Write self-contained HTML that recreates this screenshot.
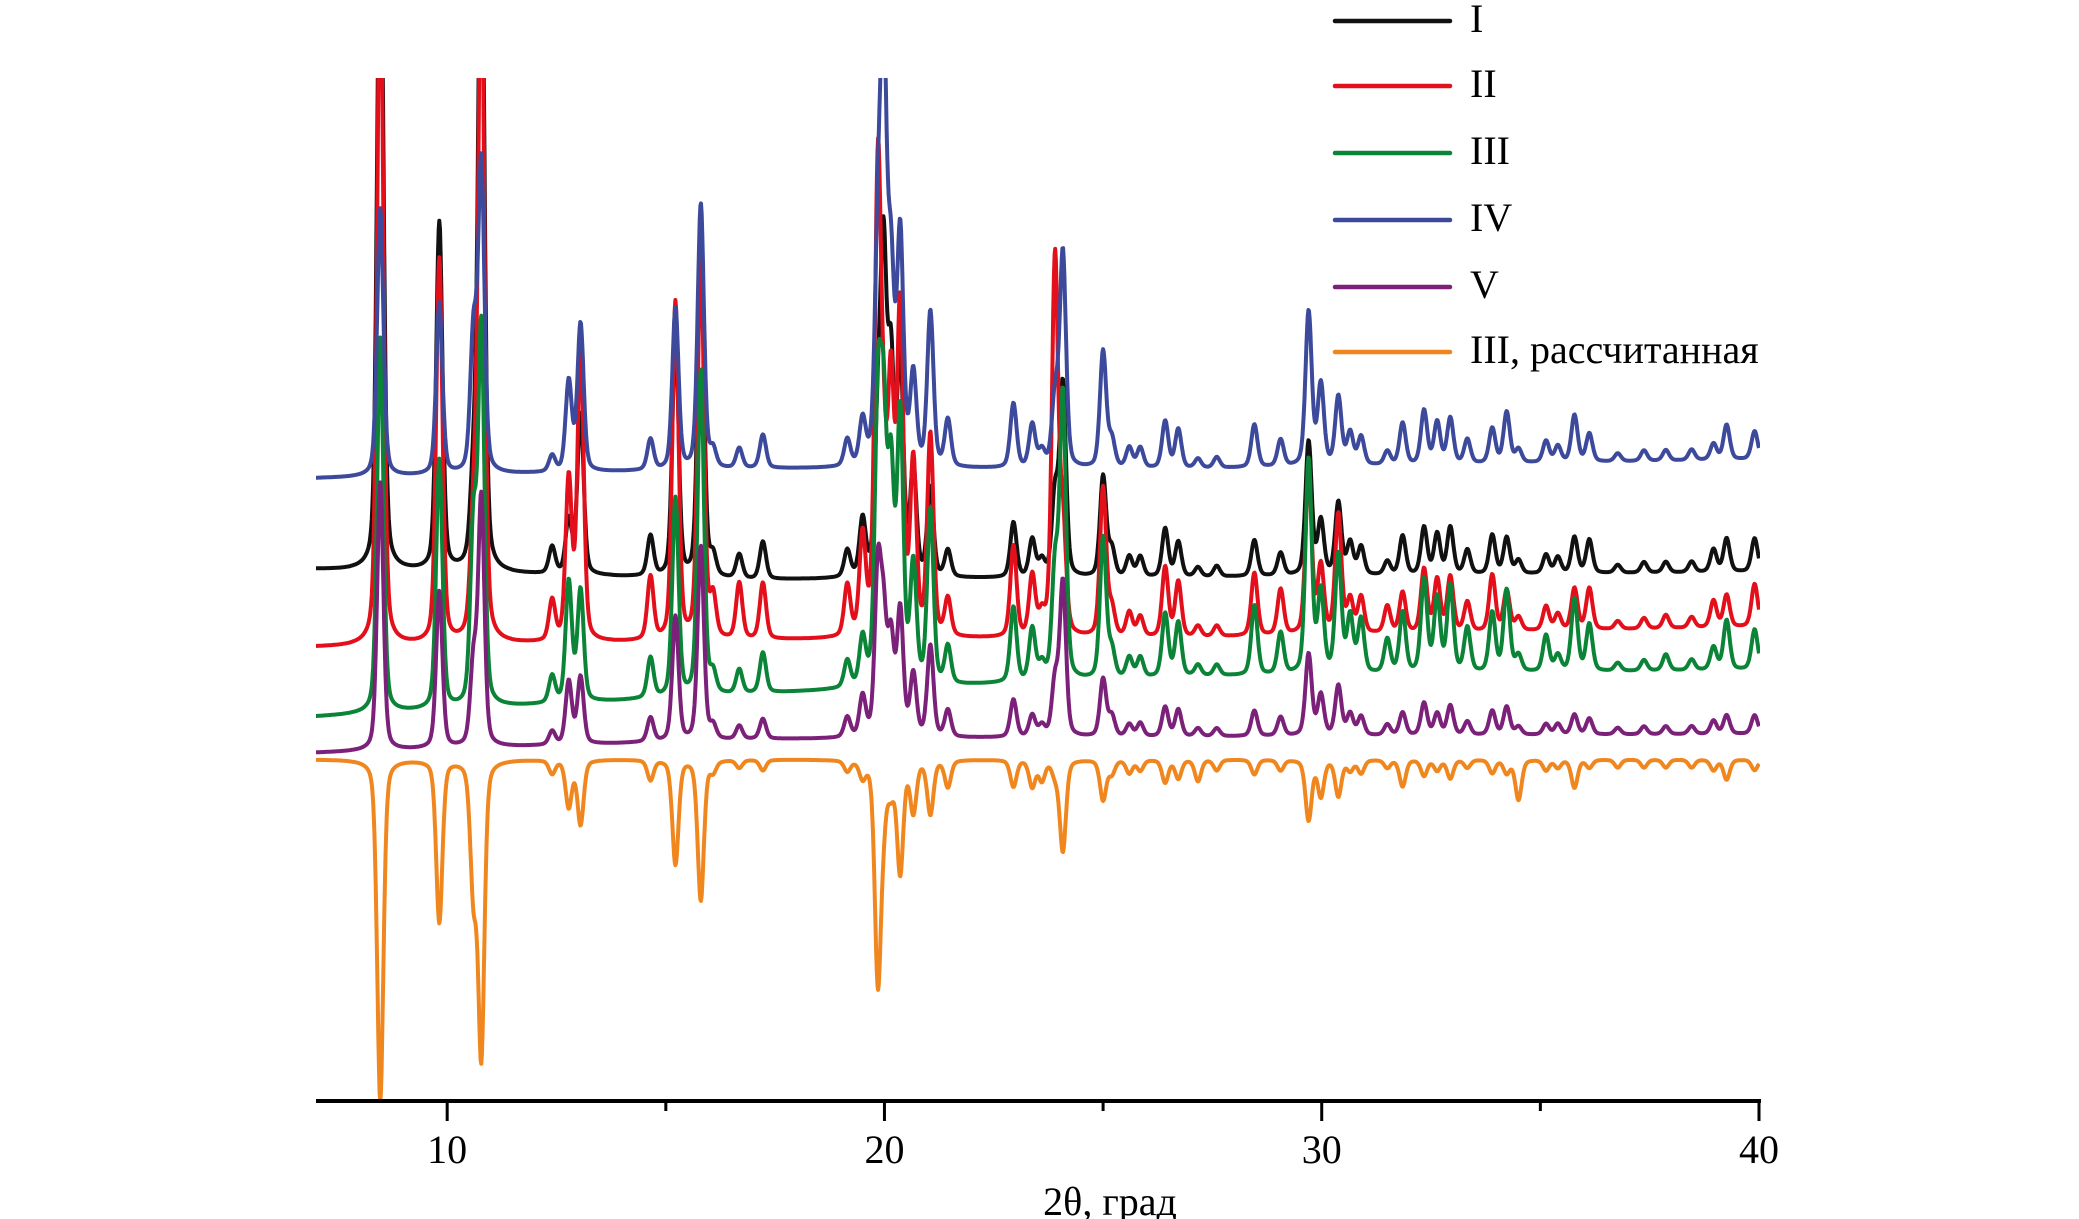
<!DOCTYPE html>
<html><head><meta charset="utf-8"><style>
html,body{margin:0;padding:0;background:#fff;}
svg{display:block;}
text{font-family:"Liberation Serif","DejaVu Serif",serif;fill:#000;}
</style></head><body>
<svg id="chart" width="2079" height="1219" viewBox="0 0 2079 1219" xmlns="http://www.w3.org/2000/svg">
<defs><clipPath id="plotclip"><rect x="316" y="78" width="1444" height="1023"/></clipPath></defs>
<g id="series" clip-path="url(#plotclip)"></g>
<g id="axis"></g>
<text x="1110" y="1219" font-size="40" text-anchor="middle" dy="-4">2θ, град</text>
<g id="legend"></g>
</svg>
<script>
const peakPos = [8.47,9.82,10.6,10.78,12.4,12.78,13.05,14.65,15.22,15.8,16.08,16.68,17.22,19.15,19.5,19.85,19.98,20.15,20.36,20.66,21.05,21.45,22.95,23.38,23.6,23.9,24.08,25.0,25.2,25.6,25.85,26.42,26.72,27.17,27.6,28.46,29.06,29.7,29.98,30.38,30.65,30.9,31.5,31.85,32.34,32.64,32.94,33.33,33.9,34.23,34.5,35.13,35.4,35.78,36.12,36.77,37.37,37.87,38.46,38.96,39.26,39.9];
const hI   = [520,260,60,520,20,40,120,30,180,250,15,18,28,20,42,100,227,150,160,80,66,20,41,28,12,60,143,75,20,15,15,36,26,7,8,27,17,100,40,54,24,21,10,29,35,30,35,18,29,27,10,14,12,27,25,6,8,8,8,17,25,25];
const hII  = [520,287,80,520,30,120,220,47,252,290,30,42,42,38,73,340,100,180,240,128,150,28,68,45,15,282,80,111,20,18,15,52,41,8,8,47,34,119,50,89,25,27,20,30,47,39,41,22,42,30,10,18,12,31,31,6,8,10,8,20,24,32];
const hIII = [280,186,130,280,20,90,83,30,148,243,15,18,30,20,35,200,180,150,198,88,130,28,56,39,12,80,212,105,20,15,15,47,40,8,8,52,31,160,60,88,42,40,25,45,69,55,64,33,44,61,12,27,12,54,35,6,8,12,8,17,37,30];
const hIV  = [200,128,100,230,12,67,110,23,120,198,13,15,25,20,33,150,300,137,170,67,115,35,48,32,12,50,160,87,20,15,15,35,29,7,8,32,20,115,60,51,24,21,10,31,40,31,34,18,26,38,10,16,12,35,21,6,8,8,8,12,26,21];
const hV   = [200,117,60,185,10,47,50,18,93,145,10,10,15,15,30,120,80,70,93,46,68,20,28,16,8,40,115,43,15,9,10,22,20,6,6,19,14,61,30,37,16,14,8,17,24,16,22,10,18,21,6,8,8,15,12,5,6,6,6,10,14,14];
const dCalc= [255,121,93,218,10,35,48,15,78,105,8,6,8,8,12,163,30,20,83,38,40,20,20,20,15,10,68,30,10,10,8,17,14,16,8,11,8,45,27,27,8,10,6,20,12,8,14,6,10,10,30,8,6,21,6,6,6,6,6,8,15,8];
const baseKnots = [7,17,27,40];
const baseI   = [397,389,391,395];
const baseII  = [339,344,346,354];
const baseIII = [287,304,317,322];
const baseIV  = [465,472,472,479];
const baseV   = [260,270,272,274];
const baseCalc= [255,255,255,255];
const xTicks = [10,20,30,40];
const xMinor = [15,25,35];
const legendLabels = ["I","II","III","IV","V","III, рассчитанная"];

const X0=316, X1=1759, XMIN=7, XMAX=40, Y0=1101, KY=1.3396;
function xs(t){return X0+(t-XMIN)*(X1-X0)/(XMAX-XMIN);}
function ys(v){return Y0-v*KY;}
function base(knots,t){
  for(let i=0;i<baseKnots.length-1;i++){
    if(t<=baseKnots[i+1]){const f=(t-baseKnots[i])/(baseKnots[i+1]-baseKnots[i]);return knots[i]+(knots[i+1]-knots[i])*f;}
  }
  return knots[knots.length-1];
}
function prof(dx){const w=0.17,q=(dx/w)*(dx/w);return 0.35/(1+4*q)+0.65*Math.exp(-2.7726*q);}
function curve(heights,knots,sign){
  let d="";
  for(let t=XMIN;t<=XMAX+1e-9;t+=0.015){
    let v=base(knots,t),s=0;
    for(let i=0;i<peakPos.length;i++){const dx=t-peakPos[i];if(Math.abs(dx)<3)s+=heights[i]*prof(dx);}
    v+=sign*s;
    d+=(d?"L":"M")+xs(t).toFixed(1)+","+ys(v).toFixed(1);
  }
  return d;
}
const NS="http://www.w3.org/2000/svg";
const g=document.getElementById("series");
function addPath(d,color,name){
  const p=document.createElementNS(NS,"path");
  p.setAttribute("d",d);p.setAttribute("fill","none");p.setAttribute("stroke",color);
  p.setAttribute("stroke-width","4");p.setAttribute("stroke-linejoin","round");
  
  
  g.appendChild(p);
}
addPath(curve(dCalc,baseCalc,-1),"#f0861e","series-iii-calculated");
addPath(curve(hI,baseI,1),"#111111","series-i");
addPath(curve(hII,baseII,1),"#e3101c","series-ii");
addPath(curve(hIII,baseIII,1),"#0b8438","series-iii");
addPath(curve(hV,baseV,1),"#7b2179","series-v");
addPath(curve(hIV,baseIV,1),"#3d4a9c","series-iv");

const ax=document.getElementById("axis");
const line=document.createElementNS(NS,"line");
line.setAttribute("x1",X0);line.setAttribute("x2",X1+2);line.setAttribute("y1",Y0);line.setAttribute("y2",Y0);
line.setAttribute("stroke","#000");line.setAttribute("stroke-width","4");


ax.appendChild(line);
xTicks.forEach(t=>{
  const l=document.createElementNS(NS,"line");
  l.setAttribute("x1",xs(t));l.setAttribute("x2",xs(t));l.setAttribute("y1",Y0);l.setAttribute("y2",Y0+20);
  l.setAttribute("stroke","#000");l.setAttribute("stroke-width","3");
  
  
  ax.appendChild(l);
  const tx=document.createElementNS(NS,"text");
  tx.setAttribute("x",xs(t));tx.setAttribute("y",1163);tx.setAttribute("font-size","40");tx.setAttribute("text-anchor","middle");
  tx.textContent=t;
  
  
  ax.appendChild(tx);
});
xMinor.forEach(t=>{
  const l=document.createElementNS(NS,"line");
  l.setAttribute("x1",xs(t));l.setAttribute("x2",xs(t));l.setAttribute("y1",Y0);l.setAttribute("y2",Y0+10);
  l.setAttribute("stroke","#000");l.setAttribute("stroke-width","3");
  
  
  ax.appendChild(l);
});

const lg=document.getElementById("legend");
const lgColors=["#111111","#e3101c","#0b8438","#3d4a9c","#7b2179","#f0861e"];
const lgY=[21,86,153,220,287,352];
legendLabels.forEach((lab,i)=>{
  const l=document.createElementNS(NS,"line");
  l.setAttribute("x1",1335);l.setAttribute("x2",1450);l.setAttribute("y1",lgY[i]);l.setAttribute("y2",lgY[i]);
  l.setAttribute("stroke",lgColors[i]);l.setAttribute("stroke-width","4.5");l.setAttribute("stroke-linecap","round");
  
  
  lg.appendChild(l);
  const tx=document.createElementNS(NS,"text");
  tx.setAttribute("x",1470);tx.setAttribute("y",lgY[i]+11);tx.setAttribute("font-size","40");
  tx.textContent=lab;
  
  
  lg.appendChild(tx);
});
</script>
</body></html>
